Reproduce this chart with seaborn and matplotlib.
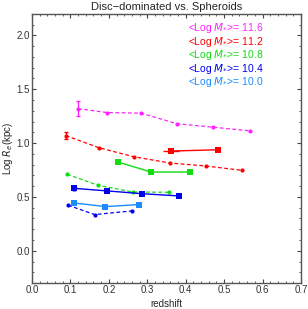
import pandas as pd
import seaborn as sns
import matplotlib.pyplot as plt
from matplotlib.ticker import MultipleLocator

# disc-dominated (dashed, small markers)
z_disc_116 = [0.12, 0.194, 0.284, 0.377, 0.47, 0.567]
r_disc_116 = [1.32, 1.284, 1.278, 1.18, 1.148, 1.114]
z_disc_112 = [0.088, 0.174, 0.265, 0.359, 0.453, 0.547]
r_disc_112 = [1.07, 0.957, 0.873, 0.815, 0.787, 0.747]
z_disc_108 = [0.0915, 0.172, 0.262, 0.357]
r_disc_108 = [0.71, 0.608, 0.546, 0.543]
z_disc_100 = [0.094, 0.163, 0.26]
r_disc_100 = [0.423, 0.336, 0.37]

# spheroids (solid, big squares)
z_sph_112 = [0.362, 0.483]
r_sph_112 = [0.926, 0.938]
z_sph_108 = [0.224, 0.31, 0.411]
r_sph_108 = [0.824, 0.731, 0.731]
z_sph_104 = [0.109, 0.195, 0.286, 0.383]
r_sph_104 = [0.58, 0.556, 0.53, 0.509]
z_sph_100 = [0.109, 0.191, 0.278]
r_sph_100 = [0.444, 0.41, 0.429]

labels = ['11.6', '11.2', '10.8', '10.4', '10.0']
colors = ['#ff22ff', '#ff0000', '#11dd11', '#0000ee', '#1a8cff']

sns.set_style('ticks')
plt.rcParams['font.family'] = ['Liberation Sans', 'DejaVu Sans']

fig = plt.figure(figsize=(3.08, 3.09), dpi=100)
ax = fig.add_axes([0.104, 0.084, 0.873, 0.871])

disc = [(z_disc_116, r_disc_116, colors[0]), (z_disc_112, r_disc_112, colors[1]),
        (z_disc_108, r_disc_108, colors[2]), (z_disc_100, r_disc_100, colors[3])]
for z, r, c in disc:
    df = pd.DataFrame({'z': z, 'r': r})
    sns.lineplot(data=df, x='z', y='r', ax=ax, color=c, lw=0.9, marker='o',
                 markersize=3, markeredgewidth=0, linestyle=(0, (3, 2)))

sph = [(z_sph_112, r_sph_112, colors[1]), (z_sph_108, r_sph_108, colors[2]),
       (z_sph_104, r_sph_104, colors[3]), (z_sph_100, r_sph_100, colors[4])]
for z, r, c in sph:
    df = pd.DataFrame({'z': z, 'r': r})
    sns.lineplot(data=df, x='z', y='r', ax=ax, color=c, lw=1.0, marker='s',
                 markersize=5, markeredgewidth=0)

# a few error bars
ax.errorbar(z_disc_116[0], r_disc_116[0], yerr=0.07, color=colors[0], lw=0.9, capsize=1.5, fmt='none')
ax.errorbar(z_disc_112[0], r_disc_112[0], yerr=0.03, color=colors[1], lw=0.9, capsize=1.5, fmt='none')
ax.errorbar(z_sph_112[0], r_sph_112[0], xerr=0.02, yerr=0.02, color=colors[1], lw=1.0, fmt='none')
ax.errorbar(z_sph_104[0], r_sph_104[0], yerr=0.025, color=colors[3], lw=2.5, fmt='none')

for i, (lab, c) in enumerate(zip(labels, colors)):
    ax.text(0.405, 2.04 - i * 0.125, r'<Log $M_{*}$>= ' + lab, color=c, fontsize=7.5)

ax.set_xlim(0, 0.7)
ax.set_ylim(-0.3, 2.2)
ax.xaxis.set_major_locator(MultipleLocator(0.1))
ax.xaxis.set_minor_locator(MultipleLocator(0.02))
ax.yaxis.set_major_locator(MultipleLocator(0.5))
ax.yaxis.set_minor_locator(MultipleLocator(0.1))
ax.tick_params(which='both', direction='in', top=True, right=True, labelsize=7, pad=1.5,
               color='#444444', labelcolor='#333333')
ax.tick_params(which='major', length=3)
ax.tick_params(which='minor', length=1.5)
for s in ax.spines.values():
    s.set_color('#555555')
    s.set_linewidth(1.0)

ax.set_title('Disc\u2212dominated vs. Spheroids', fontsize=8, pad=3)
ax.set_xlabel('redshift', fontsize=7, labelpad=3)
ax.set_ylabel('Log $R_e$(kpc)', fontsize=7, labelpad=1)

plt.savefig('out.png', dpi=100)
